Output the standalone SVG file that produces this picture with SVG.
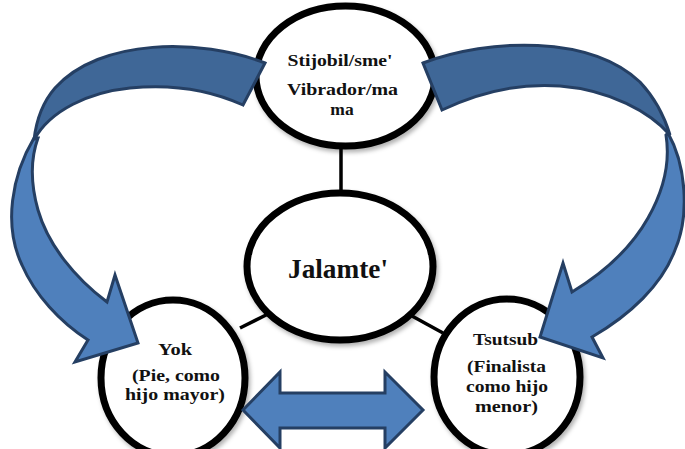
<svg xmlns="http://www.w3.org/2000/svg" width="685" height="449" viewBox="0 0 685 449">
  <defs>
    <filter id="sh" x="-20%" y="-20%" width="150%" height="150%">
      <feDropShadow dx="2" dy="3" stdDeviation="2" flood-color="#000" flood-opacity="0.3"/>
    </filter>
  </defs>
  <style>
    .node { fill: #fff; stroke: #000; stroke-width: 7; filter: url(#sh); }
    .conn { stroke: #000; stroke-width: 3.5; fill: none; }
    .t { font-family: "Liberation Serif", "Times New Roman", serif; font-weight: bold; fill: #111; text-anchor: middle; font-size: 17.5px; }
    .big { font-size: 28px; }
    .back { fill: #3F6797; stroke: #253F63; stroke-width: 3; stroke-linejoin: miter; }
    .front { fill: #4F80BC; stroke: #253F63; stroke-width: 3; stroke-linejoin: miter; }
  </style>
  <rect width="685" height="449" fill="#fff"/>

  <g id="connectors">
    <line class="conn" x1="341" y1="146" x2="341" y2="193"/>
    <line class="conn" x1="240" y1="328" x2="268" y2="314"/>
    <line class="conn" x1="412" y1="316" x2="443" y2="333"/>
  </g>

  <g id="node-top">
    <ellipse class="node" cx="345.5" cy="76" rx="89.5" ry="70"/>
    <text class="t" x="340" y="66" textLength="105" lengthAdjust="spacingAndGlyphs">Stijobil/sme'</text>
    <text class="t" x="342.5" y="95" textLength="111" lengthAdjust="spacingAndGlyphs">Vibrador/ma</text>
    <text class="t" x="342" y="115">ma</text>
  </g>

  <g id="node-center">
    <ellipse class="node" cx="340" cy="266.5" rx="93" ry="73.5"/>
    <text class="t big" x="338" y="278" textLength="100" lengthAdjust="spacingAndGlyphs">Jalamte'</text>
  </g>

  <g id="node-yok">
    <ellipse class="node" cx="173" cy="378" rx="72" ry="78"/>
    <text class="t" x="175" y="355" textLength="34" lengthAdjust="spacingAndGlyphs">Yok</text>
    <text class="t" x="176" y="381" textLength="88" lengthAdjust="spacingAndGlyphs">(Pie, como</text>
    <text class="t" x="175" y="400" textLength="100" lengthAdjust="spacingAndGlyphs">hijo mayor)</text>
  </g>

  <g id="node-tsutsub">
    <ellipse class="node" cx="507" cy="377" rx="73" ry="78"/>
    <text class="t" x="505.5" y="345" textLength="65" lengthAdjust="spacingAndGlyphs">Tsutsub</text>
    <text class="t" x="506.5" y="372" textLength="79" lengthAdjust="spacingAndGlyphs">(Finalista</text>
    <text class="t" x="507" y="392" textLength="82" lengthAdjust="spacingAndGlyphs">como hijo</text>
    <text class="t" x="506.5" y="412" textLength="63" lengthAdjust="spacingAndGlyphs">menor)</text>
  </g>

  <g id="arrows">
    <g id="arrow-left">
      <path class="front" d="M34,138 C12,175 3,225 22,265 C35,295 60,322 88,340 L75,362 L138,343 L115,275 L107,302 C75,278 48,245 38,210 C31,185 30,160 38,138 Z"/>
      <path class="back" d="M265,63 C200,38 100,38 55,88 C42,103 36,122 34,140 C50,110 90,92 130,88 C170,84 210,90 243,105 Z"/>
    </g>
    <g id="arrow-right">
      <path class="front" d="M668,133 C686,165 690,215 675,250 C662,285 630,315 592,337 L603,358 L540,337 L563,263 L572,292 C600,275 630,250 648,218 C665,188 670,160 666,135 Z"/>
      <path class="back" d="M423,63 C490,38 590,35 640,82 C655,98 664,115 670,135 C650,112 610,90 560,86 C520,83 480,92 442,110 Z"/>
    </g>
    <path id="arrow-double" class="front" d="M243,410 L280,372 L280,393 L385,393 L385,372 L423,410 L385,448 L385,428 L280,428 L280,448 Z"/>
  </g>
</svg>
